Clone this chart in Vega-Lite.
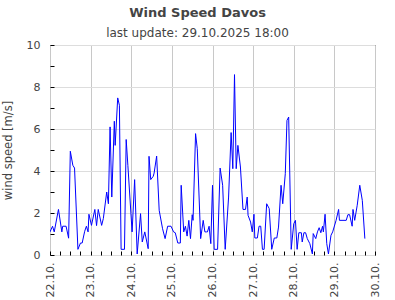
{
  "$schema": "https://vega.github.io/schema/vega-lite/v6.json",
  "width": 325,
  "height": 210,
  "autosize": "none",
  "padding": {"left": 50, "top": 45, "right": 20, "bottom": 45},
  "title": {
    "text": "Wind Speed Davos",
    "subtitle": "last update: 29.10.2025 18:00",
    "font": "DejaVu Sans",
    "fontSize": 13,
    "fontWeight": "bold",
    "color": "#444444",
    "subtitleFont": "DejaVu Sans",
    "subtitleFontSize": 12,
    "subtitleColor": "#444444",
    "anchor": "middle",
    "dx": -15,
    "offset": 0,
    "subtitlePadding": 8
  },
  "config": {
    "view": {"stroke": "#000000", "strokeWidth": 1},
    "font": "DejaVu Sans"
  },
  "data": {
    "values": [
      {"t": "2025-10-22T00:00", "v": 1.1},
      {"t": "2025-10-22T01:30", "v": 1.37},
      {"t": "2025-10-22T02:30", "v": 1.1},
      {"t": "2025-10-22T05:00", "v": 2.17},
      {"t": "2025-10-22T07:00", "v": 1.1},
      {"t": "2025-10-22T07:30", "v": 1.37},
      {"t": "2025-10-22T09:30", "v": 1.37},
      {"t": "2025-10-22T11:00", "v": 0.8},
      {"t": "2025-10-22T12:00", "v": 4.94},
      {"t": "2025-10-22T13:30", "v": 4.27},
      {"t": "2025-10-22T14:30", "v": 4.14},
      {"t": "2025-10-22T16:30", "v": 0.27},
      {"t": "2025-10-22T18:00", "v": 0.57},
      {"t": "2025-10-22T19:00", "v": 0.57},
      {"t": "2025-10-22T20:30", "v": 1.13},
      {"t": "2025-10-22T21:30", "v": 1.37},
      {"t": "2025-10-22T22:30", "v": 1.1},
      {"t": "2025-10-22T23:00", "v": 1.94},
      {"t": "2025-10-23T00:30", "v": 1.41},
      {"t": "2025-10-23T02:30", "v": 2.17},
      {"t": "2025-10-23T03:30", "v": 1.4},
      {"t": "2025-10-23T04:30", "v": 2.17},
      {"t": "2025-10-23T06:30", "v": 1.41},
      {"t": "2025-10-23T07:30", "v": 1.73},
      {"t": "2025-10-23T09:30", "v": 3.0},
      {"t": "2025-10-23T10:30", "v": 2.44},
      {"t": "2025-10-23T11:30", "v": 6.1},
      {"t": "2025-10-23T12:30", "v": 2.76},
      {"t": "2025-10-23T14:00", "v": 6.37},
      {"t": "2025-10-23T14:30", "v": 5.22},
      {"t": "2025-10-23T16:00", "v": 7.48},
      {"t": "2025-10-23T17:00", "v": 7.13},
      {"t": "2025-10-23T18:00", "v": 0.27},
      {"t": "2025-10-23T20:00", "v": 0.27},
      {"t": "2025-10-23T21:00", "v": 5.5},
      {"t": "2025-10-23T22:00", "v": 4.27},
      {"t": "2025-10-24T00:30", "v": 1.1},
      {"t": "2025-10-24T02:00", "v": 3.59},
      {"t": "2025-10-24T03:30", "v": 0.05},
      {"t": "2025-10-24T05:30", "v": 1.97},
      {"t": "2025-10-24T06:30", "v": 0.62},
      {"t": "2025-10-24T08:00", "v": 1.1},
      {"t": "2025-10-24T10:00", "v": 0.3},
      {"t": "2025-10-24T10:30", "v": 4.7},
      {"t": "2025-10-24T11:30", "v": 3.59},
      {"t": "2025-10-24T13:00", "v": 3.75},
      {"t": "2025-10-24T13:30", "v": 3.9},
      {"t": "2025-10-24T15:00", "v": 4.71},
      {"t": "2025-10-24T16:30", "v": 2.13},
      {"t": "2025-10-24T18:30", "v": 1.25},
      {"t": "2025-10-24T20:00", "v": 0.78},
      {"t": "2025-10-24T21:30", "v": 1.37},
      {"t": "2025-10-24T23:30", "v": 1.37},
      {"t": "2025-10-25T01:00", "v": 1.1},
      {"t": "2025-10-25T02:00", "v": 1.06},
      {"t": "2025-10-25T03:30", "v": 0.57},
      {"t": "2025-10-25T05:00", "v": 0.57},
      {"t": "2025-10-25T05:30", "v": 3.32},
      {"t": "2025-10-25T07:00", "v": 1.1},
      {"t": "2025-10-25T08:00", "v": 1.37},
      {"t": "2025-10-25T09:00", "v": 0.9},
      {"t": "2025-10-25T10:00", "v": 1.65},
      {"t": "2025-10-25T11:00", "v": 0.78},
      {"t": "2025-10-25T12:00", "v": 1.92},
      {"t": "2025-10-25T12:30", "v": 1.65},
      {"t": "2025-10-25T14:00", "v": 5.78},
      {"t": "2025-10-25T15:00", "v": 5.06},
      {"t": "2025-10-25T17:00", "v": 0.78},
      {"t": "2025-10-25T18:30", "v": 1.65},
      {"t": "2025-10-25T19:30", "v": 1.1},
      {"t": "2025-10-25T20:30", "v": 1.1},
      {"t": "2025-10-25T21:00", "v": 1.1},
      {"t": "2025-10-25T22:00", "v": 1.37},
      {"t": "2025-10-25T23:00", "v": 0.54},
      {"t": "2025-10-26T00:00", "v": 3.32},
      {"t": "2025-10-26T01:00", "v": 0.27},
      {"t": "2025-10-26T03:00", "v": 0.27},
      {"t": "2025-10-26T04:30", "v": 4.14},
      {"t": "2025-10-26T06:00", "v": 3.32},
      {"t": "2025-10-26T07:30", "v": 0.27},
      {"t": "2025-10-26T09:30", "v": 2.76},
      {"t": "2025-10-26T11:00", "v": 5.83},
      {"t": "2025-10-26T12:00", "v": 4.11},
      {"t": "2025-10-26T13:00", "v": 8.59},
      {"t": "2025-10-26T14:00", "v": 4.11},
      {"t": "2025-10-26T15:00", "v": 5.22},
      {"t": "2025-10-26T16:30", "v": 4.19},
      {"t": "2025-10-26T18:00", "v": 2.17},
      {"t": "2025-10-26T19:30", "v": 2.17},
      {"t": "2025-10-26T20:30", "v": 2.76},
      {"t": "2025-10-26T21:00", "v": 1.89},
      {"t": "2025-10-26T22:30", "v": 1.57},
      {"t": "2025-10-26T23:30", "v": 1.1},
      {"t": "2025-10-27T00:30", "v": 1.94},
      {"t": "2025-10-27T01:00", "v": 0.81},
      {"t": "2025-10-27T02:30", "v": 0.81},
      {"t": "2025-10-27T03:30", "v": 1.37},
      {"t": "2025-10-27T04:30", "v": 1.37},
      {"t": "2025-10-27T05:30", "v": 0.27},
      {"t": "2025-10-27T06:30", "v": 0.27},
      {"t": "2025-10-27T08:00", "v": 2.44},
      {"t": "2025-10-27T09:30", "v": 2.21},
      {"t": "2025-10-27T11:00", "v": 0.27},
      {"t": "2025-10-27T12:30", "v": 0.81},
      {"t": "2025-10-27T14:00", "v": 0.81},
      {"t": "2025-10-27T15:00", "v": 1.33},
      {"t": "2025-10-27T16:30", "v": 3.32},
      {"t": "2025-10-27T17:30", "v": 2.44},
      {"t": "2025-10-27T19:00", "v": 3.87},
      {"t": "2025-10-27T20:00", "v": 6.41},
      {"t": "2025-10-27T21:00", "v": 6.57},
      {"t": "2025-10-27T22:30", "v": 0.27},
      {"t": "2025-10-28T00:00", "v": 1.49},
      {"t": "2025-10-28T01:00", "v": 1.65},
      {"t": "2025-10-28T02:00", "v": 0.27},
      {"t": "2025-10-28T03:00", "v": 1.06},
      {"t": "2025-10-28T04:30", "v": 1.06},
      {"t": "2025-10-28T05:00", "v": 0.62},
      {"t": "2025-10-28T06:00", "v": 1.06},
      {"t": "2025-10-28T07:00", "v": 1.06},
      {"t": "2025-10-28T08:00", "v": 0.78},
      {"t": "2025-10-28T09:30", "v": 0.54},
      {"t": "2025-10-28T11:00", "v": 0.05},
      {"t": "2025-10-28T11:30", "v": 1.02},
      {"t": "2025-10-28T13:00", "v": 0.78},
      {"t": "2025-10-28T14:00", "v": 1.1},
      {"t": "2025-10-28T15:00", "v": 1.3},
      {"t": "2025-10-28T16:00", "v": 1.06},
      {"t": "2025-10-28T17:00", "v": 1.37},
      {"t": "2025-10-28T17:30", "v": 1.1},
      {"t": "2025-10-28T18:30", "v": 1.94},
      {"t": "2025-10-28T19:30", "v": 0.54},
      {"t": "2025-10-28T20:30", "v": 0.05},
      {"t": "2025-10-28T22:00", "v": 0.94},
      {"t": "2025-10-28T23:00", "v": 1.1},
      {"t": "2025-10-29T01:00", "v": 1.65},
      {"t": "2025-10-29T02:30", "v": 2.17},
      {"t": "2025-10-29T03:00", "v": 1.65},
      {"t": "2025-10-29T07:00", "v": 1.65},
      {"t": "2025-10-29T08:00", "v": 1.92},
      {"t": "2025-10-29T09:00", "v": 1.92},
      {"t": "2025-10-29T10:30", "v": 1.37},
      {"t": "2025-10-29T11:00", "v": 2.17},
      {"t": "2025-10-29T12:00", "v": 1.65},
      {"t": "2025-10-29T13:30", "v": 2.37},
      {"t": "2025-10-29T15:00", "v": 3.32},
      {"t": "2025-10-29T16:30", "v": 2.6},
      {"t": "2025-10-29T18:00", "v": 0.78}
    ]
  },
  "mark": {"type": "line", "color": "#0000ff", "strokeWidth": 1, "clip": true},
  "encoding": {
    "x": {
      "field": "t",
      "type": "temporal",
      "scale": {"domain": [{"year": 2025, "month": 10, "date": 22}, {"year": 2025, "month": 10, "date": 30}]},
      "axis": {
        "title": null,
        "tickCount": 32,
        "labelExpr": "hours(datum.value) == 0 ? timeFormat(datum.value, '%d.%m.') : ''",
        "labelAngle": -90,
        "labelFont": "DejaVu Sans",
        "labelFontSize": 11,
        "labelColor": "#444444",
        "labelOverlap": false,
        "labelFlush": false,
        "labelBound": false,
        "labelPadding": 11,
        "domain": false,
        "tickSize": -4,
        "tickColor": "#000000",
        "grid": true,
        "gridColor": "#c8c8c8",
        "gridOpacity": {"condition": {"test": "hours(datum.value) == 0", "value": 1}, "value": 0}
      }
    },
    "y": {
      "field": "v",
      "type": "quantitative",
      "scale": {"domain": [0, 10], "nice": false},
      "axis": {
        "title": "wind speed [m/s]",
        "titleFont": "DejaVu Sans",
        "titleFontSize": 11.5,
        "titleFontWeight": "normal",
        "titleColor": "#444444",
        "titlePadding": 13,
        "values": [0, 1, 2, 3, 4, 5, 6, 7, 8, 9, 10],
        "labelExpr": "datum.value % 2 == 0 ? datum.label : ''",
        "labelFont": "DejaVu Sans",
        "labelFontSize": 11,
        "labelColor": "#444444",
        "labelPadding": 14,
        "domain": false,
        "tickSize": -4,
        "tickColor": "#000000",
        "grid": true,
        "gridColor": "#dddddd",
        "gridOpacity": {"condition": {"test": "datum.value % 2 == 0", "value": 1}, "value": 0}
      }
    }
  }
}
